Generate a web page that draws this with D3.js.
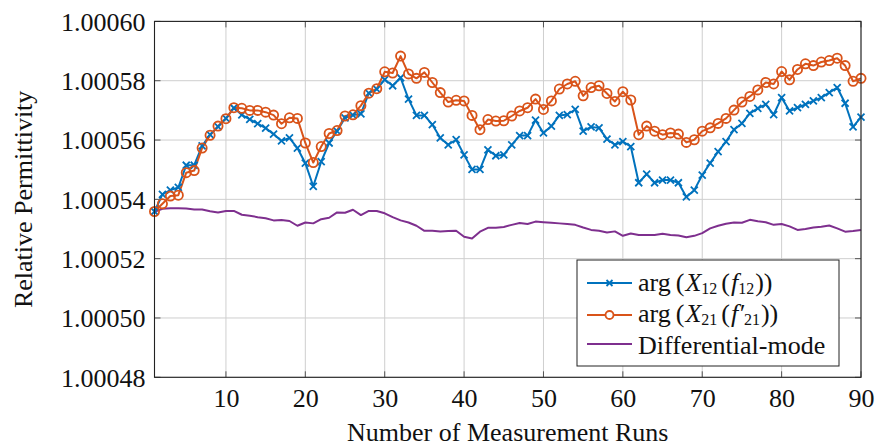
<!DOCTYPE html>
<html>
<head>
<meta charset="utf-8">
<script src="https://cdn.jsdelivr.net/npm/d3@7"></script>
<style>
  html, body { margin: 0; padding: 0; background: #fff; }
  svg { display: block; }
  text { font-family: "Liberation Serif", "DejaVu Serif", serif; fill: #111; }
</style>
</head>
<body>
<svg id="chart" width="876" height="446"></svg>
<script>
// Measurement runs 1..90
const runs = d3.range(1, 91);

// arg(X12(f12))
const seriesX12 = [
  1.0005359, 1.0005417, 1.0005431, 1.0005440, 1.0005515, 1.0005515, 1.0005580, 1.0005618, 1.0005645, 1.0005673,
  1.0005708, 1.0005685, 1.0005670, 1.0005655, 1.0005640, 1.0005620, 1.0005597, 1.0005607, 1.0005573, 1.0005522,
  1.0005444, 1.0005527, 1.0005590, 1.0005630, 1.0005675, 1.0005684, 1.0005688, 1.0005758, 1.0005772, 1.0005804,
  1.0005783, 1.0005810, 1.0005738, 1.0005683, 1.0005683, 1.0005652, 1.0005607, 1.0005584, 1.0005601, 1.0005550,
  1.0005501, 1.0005501, 1.0005567, 1.0005547, 1.0005550, 1.0005584, 1.0005615, 1.0005615, 1.0005667, 1.0005624,
  1.0005647, 1.0005683, 1.0005686, 1.0005703, 1.0005630, 1.0005644, 1.0005641, 1.0005603, 1.0005584, 1.0005595,
  1.0005578, 1.0005456, 1.0005485, 1.0005456, 1.0005465, 1.0005465, 1.0005456, 1.0005408, 1.0005431, 1.0005482,
  1.0005522, 1.0005561, 1.0005595, 1.0005635, 1.0005656, 1.0005690, 1.0005707, 1.0005720, 1.0005686, 1.0005743,
  1.0005698, 1.0005709, 1.0005720, 1.0005732, 1.0005743, 1.0005760, 1.0005777, 1.0005724, 1.0005644, 1.0005677
];

// arg(X21(f'21))
const seriesX21 = [
  1.0005359, 1.0005385, 1.0005411, 1.0005414, 1.0005490, 1.0005497, 1.0005573, 1.0005616, 1.0005647, 1.0005672,
  1.0005709, 1.0005707, 1.0005700, 1.0005700, 1.0005694, 1.0005684, 1.0005655, 1.0005675, 1.0005673, 1.0005590,
  1.0005524, 1.0005578, 1.0005622, 1.0005632, 1.0005681, 1.0005685, 1.0005716, 1.0005758, 1.0005773, 1.0005830,
  1.0005826, 1.0005883, 1.0005823, 1.0005808, 1.0005828, 1.0005794, 1.0005760, 1.0005728, 1.0005734, 1.0005732,
  1.0005683, 1.0005635, 1.0005669, 1.0005664, 1.0005665, 1.0005681, 1.0005698, 1.0005709, 1.0005738, 1.0005703,
  1.0005732, 1.0005772, 1.0005789, 1.0005798, 1.0005749, 1.0005777, 1.0005783, 1.0005757, 1.0005730, 1.0005763,
  1.0005735, 1.0005618, 1.0005647, 1.0005630, 1.0005618, 1.0005624, 1.0005620, 1.0005592, 1.0005601, 1.0005630,
  1.0005641, 1.0005656, 1.0005673, 1.0005701, 1.0005728, 1.0005747, 1.0005769, 1.0005794, 1.0005789, 1.0005831,
  1.0005803, 1.0005838, 1.0005857, 1.0005851, 1.0005863, 1.0005868, 1.0005876, 1.0005851, 1.0005798, 1.0005808
];

// Differential-mode
const seriesDiff = [
  1.0005358, 1.0005368, 1.0005370, 1.0005370, 1.0005369, 1.0005366, 1.0005366, 1.0005360, 1.0005356, 1.0005361,
  1.0005361, 1.0005348, 1.0005345, 1.0005340, 1.0005336, 1.0005329, 1.0005330, 1.0005327, 1.0005311, 1.0005322,
  1.0005319, 1.0005333, 1.0005338, 1.0005356, 1.0005355, 1.0005365, 1.0005347, 1.0005361, 1.0005361, 1.0005353,
  1.0005340, 1.0005329, 1.0005322, 1.0005311, 1.0005294, 1.0005294, 1.0005292, 1.0005293, 1.0005294, 1.0005274,
  1.0005268, 1.0005291, 1.0005304, 1.0005304, 1.0005307, 1.0005314, 1.0005320, 1.0005317, 1.0005325, 1.0005323,
  1.0005321, 1.0005319, 1.0005317, 1.0005314, 1.0005305, 1.0005297, 1.0005294, 1.0005288, 1.0005292, 1.0005277,
  1.0005285, 1.0005280, 1.0005280, 1.0005280, 1.0005284, 1.0005280, 1.0005278, 1.0005272, 1.0005277, 1.0005286,
  1.0005302, 1.0005311, 1.0005318, 1.0005322, 1.0005321, 1.0005331, 1.0005326, 1.0005323, 1.0005314, 1.0005317,
  1.0005309, 1.0005297, 1.0005300, 1.0005305, 1.0005308, 1.0005312, 1.0005302, 1.0005291, 1.0005293, 1.0005297
];

const xTicks = [10, 20, 30, 40, 50, 60, 70, 80, 90];
const yTicks = [1.00048, 1.00050, 1.00052, 1.00054, 1.00056, 1.00058, 1.00060];

const colors = { x12: "#0072BD", x21: "#D95319", diff: "#7E2F8E" };
const FS = 26;

const svg = d3.select("#chart");
const plot = { left: 154.5, right: 861, top: 21.4, bottom: 377.3 };

const x = d3.scaleLinear().domain([1, 90]).range([plot.left, plot.right]);
const y = d3.scaleLinear().domain([1.00048, 1.00060]).range([plot.bottom, plot.top]);

// grid
const grid = svg.append("g");
grid.selectAll("line.vx").data(xTicks).join("line")
  .attr("x1", d => x(d)).attr("x2", d => x(d))
  .attr("y1", plot.top).attr("y2", plot.bottom)
  .attr("stroke", "#cfcfcf").attr("stroke-width", 1);
grid.selectAll("line.hy").data(yTicks).join("line")
  .attr("x1", plot.left).attr("x2", plot.right)
  .attr("y1", d => y(d)).attr("y2", d => y(d))
  .attr("stroke", "#cfcfcf").attr("stroke-width", 1);

// inward ticks on all four sides
const tickLen = 6;
const tk = svg.append("g").attr("stroke", "#555").attr("stroke-width", 1);
xTicks.forEach(t => {
  tk.append("line").attr("x1", x(t)).attr("x2", x(t)).attr("y1", plot.bottom).attr("y2", plot.bottom - tickLen);
  tk.append("line").attr("x1", x(t)).attr("x2", x(t)).attr("y1", plot.top).attr("y2", plot.top + tickLen);
});
yTicks.forEach(t => {
  tk.append("line").attr("x1", plot.left).attr("x2", plot.left + tickLen).attr("y1", y(t)).attr("y2", y(t));
  tk.append("line").attr("x1", plot.right).attr("x2", plot.right - tickLen).attr("y1", y(t)).attr("y2", y(t));
});

// axes (labels only; frame drawn separately)
const xAxis = d3.axisBottom(x).tickValues(xTicks).tickSize(0).tickPadding(0).tickFormat(d3.format("d"));
const gx = svg.append("g").attr("transform", `translate(0,${plot.bottom})`).call(xAxis);
gx.attr("font-family", null).attr("font-size", null);
gx.select(".domain").remove();
gx.selectAll("text").attr("dy", null).attr("y", 30).attr("font-size", FS).attr("fill", "#111");

const yAxis = d3.axisLeft(y).tickValues(yTicks).tickSize(0).tickPadding(0).tickFormat(d3.format(".5f"));
const gy = svg.append("g").attr("transform", `translate(${plot.left},0)`).call(yAxis);
gy.attr("font-family", null).attr("font-size", null);
gy.select(".domain").remove();
gy.selectAll("text").attr("x", -9).attr("dy", "0.34em").attr("font-size", FS).attr("fill", "#111");

// series
const line = vals => d3.line().x((d, i) => x(runs[i])).y(d => y(d))(vals);

svg.append("path").attr("d", line(seriesDiff)).attr("fill", "none")
  .attr("stroke", colors.diff).attr("stroke-width", 2).attr("stroke-linejoin", "round");

svg.append("path").attr("d", line(seriesX12)).attr("fill", "none")
  .attr("stroke", colors.x12).attr("stroke-width", 2).attr("stroke-linejoin", "round");

svg.append("path").attr("d", line(seriesX21)).attr("fill", "none")
  .attr("stroke", colors.x21).attr("stroke-width", 2).attr("stroke-linejoin", "round");

const crossPath = (cx, cy, r) => `M${cx - r},${cy - r}L${cx + r},${cy + r}M${cx - r},${cy + r}L${cx + r},${cy - r}`;

svg.append("g").selectAll("path").data(seriesX12).join("path")
  .attr("d", (d, i) => crossPath(x(runs[i]), y(d), 3.5))
  .attr("stroke", colors.x12).attr("stroke-width", 1.8).attr("fill", "none");

svg.append("g").selectAll("circle").data(seriesX21).join("circle")
  .attr("cx", (d, i) => x(runs[i])).attr("cy", d => y(d)).attr("r", 4.6)
  .attr("stroke", colors.x21).attr("stroke-width", 1.8).attr("fill", "none");

// frame
svg.append("rect").attr("x", plot.left).attr("y", plot.top)
  .attr("width", plot.right - plot.left).attr("height", plot.bottom - plot.top)
  .attr("fill", "none").attr("stroke", "#222").attr("stroke-width", 1.1);

// axis titles
svg.append("text").attr("x", (plot.left + plot.right) / 2).attr("y", 441)
  .attr("text-anchor", "middle").attr("font-size", FS).text("Number of Measurement Runs");
svg.append("text").attr("transform", `translate(32,${(plot.top + plot.bottom) / 2}) rotate(-90)`)
  .attr("text-anchor", "middle").attr("font-size", FS).text("Relative Permittivity");

// legend
const lg = svg.append("g");
lg.append("rect").attr("x", 577).attr("y", 260).attr("width", 262).attr("height", 106)
  .attr("fill", "#fff").attr("stroke", "#222").attr("stroke-width", 1);

const legendRows = [
  { key: "x12", yy: 283 },
  { key: "x21", yy: 315 },
  { key: "diff", yy: 344 }
];
legendRows.forEach(r => {
  lg.append("line").attr("x1", 587).attr("x2", 632).attr("y1", r.yy).attr("y2", r.yy)
    .attr("stroke", colors[r.key]).attr("stroke-width", 2);
});
lg.append("path").attr("d", crossPath(609.5, 283, 3)).attr("stroke", colors.x12).attr("stroke-width", 1.8);
lg.append("circle").attr("cx", 609.5).attr("cy", 315).attr("r", 4).attr("fill", "#fff")
  .attr("stroke", colors.x21).attr("stroke-width", 1.8);

// math-style legend labels: arg(X_ab(f_ab))
const SUB = 16;
function mathLabel(yy, sub, prime) {
  const t = lg.append("text").attr("x", 638).attr("y", yy).attr("font-size", FS);
  t.append("tspan").text("arg");
  t.append("tspan").attr("dx", 5).text("(");
  t.append("tspan").attr("dx", 1).attr("font-style", "italic").text("X");
  t.append("tspan").attr("font-size", SUB).attr("dy", 3).text(sub);
  t.append("tspan").attr("dx", 4).attr("dy", -3).text("(");
  t.append("tspan").attr("dx", 1).attr("font-style", "italic").text(prime ? "f′" : "f");
  t.append("tspan").attr("font-size", SUB).attr("dy", 3).text(sub);
  t.append("tspan").attr("dx", 1).attr("dy", -3).text("))");
}
mathLabel(291, "12", false);
mathLabel(322, "21", true);

lg.append("text").attr("x", 638).attr("y", 354).attr("font-size", FS).text("Differential-mode");
</script>
</body>
</html>
